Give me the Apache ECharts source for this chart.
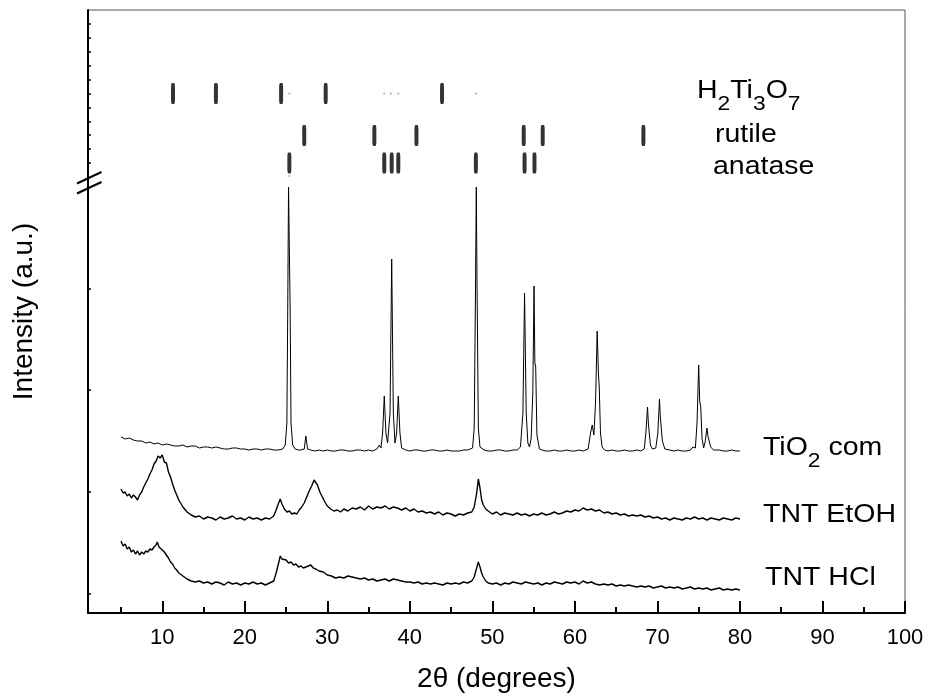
<!DOCTYPE html>
<html>
<head>
<meta charset="utf-8">
<script src="https://cdn.jsdelivr.net/npm/echarts@6.0.0/dist/echarts.min.js"></script>
<style>
html,body{margin:0;padding:0;background:#fff;}
#chart{width:928px;height:700px;}
</style>
</head>
<body>
<div id="chart"></div>
<script>
// ---- Tick labels / tick positions ----
var xMajorTicks = [10, 20, 30, 40, 50, 60, 70, 80, 90, 100];
var xMinorTicks = [5, 15, 25, 35, 45, 55, 65, 75, 85, 95];
var yLowerTicks = [19.7, 121.3, 223, 324.7];
var yUpperTicks = [450, 463.9, 477.8, 491.7, 505.6, 519.5, 533.4, 547.3, 561.2, 575.1, 589];

// ---- Reference line positions (2theta) ----
var h2ti3o7Lines = [11.3, 16.5, 24.4, 29.8, 43.9];
var rutileLines = [27.2, 35.7, 40.8, 53.8, 56.1, 68.3];
var anataseLines = [25.4, 36.9, 37.8, 38.6, 48.0, 53.9, 55.1];
var faintDots = [25.4, 36.9, 37.7, 38.6, 48.0];

// ---- Pattern: TiO2 com ----
var tio2Com = [
[5,176],[5.5,174],[6,175],[6.5,173],[7,172],[7.5,172],[8,170],[8.5,171],[9,169],[9.5,170],[10,168],[10.5,169],
[11,168],[11.5,167],[12,167],[12.5,168],[13,166],[13.5,167],[14,167],[14.5,165],[15,166],[15.5,166],[16,165],[16.5,166],
[17,165],[17.5,164],[18,164],[18.5,165],[19,165],[19.5,164],[20,164],[20.5,163],[21,164],[21.5,164],[22,163],[22.5,164],
[23,164],[23.5,163],[24,163],[24.6,164],[24.9,168],[25.1,190],[25.2,300],[25.3,426],[25.4,426],[25.5,300],[25.6,190],
[25.8,168],[26.1,164],[26.5,163],[26.8,163],[27.2,164],[27.4,177],[27.6,164],[28,163],[28.5,162],[29,163],[29.5,162],
[30,163],[30.5,162],[31,162],[31.5,163],[32,163],[32.5,162],[33,162],[33.5,163],[34,163],[34.5,162],[35,163],[35.5,162],
[36,164],[36.3,168],[36.5,165],[36.7,180],[36.9,217],[37.1,180],[37.3,170],[37.6,200],[37.8,354],[38.0,200],[38.2,170],
[38.4,180],[38.6,217],[38.8,180],[39.0,165],[39.5,163],[40,162],[40.5,163],[41,163],[41.5,162],[42,162],[42.5,163],
[43,163],[43.5,162],[44,162],[44.5,163],[45,162],[45.5,162],[46,162],[46.5,163],[47,163],[47.6,165],[47.8,185],
[47.95,320],[48.05,426],[48.15,320],[48.3,185],[48.5,166],[49,163],[49.5,162],[50,162],[50.5,163],[51,163],[51.5,162],
[52,162],[52.5,163],[53,163],[53.4,166],[53.7,200],[53.9,320],[54.1,200],[54.3,170],[54.5,166],[54.7,175],[54.9,220],
[55.05,327],[55.15,250],[55.25,246],[55.4,178],[55.7,164],[56,163],[56.5,162],[57,162],[57.5,163],[58,162],[58.5,162],
[59,163],[59.5,162],[60,162],[60.5,163],[61,162],[61.6,164],[61.9,180],[62.1,188],[62.3,178],[62.5,210],[62.7,282],
[62.85,240],[62.95,226],[63.1,180],[63.3,166],[63.6,163],[64,162],[64.5,163],[65,162],[65.5,162],[66,163],[66.5,162],
[67,162],[67.5,163],[68,162],[68.4,164],[68.6,180],[68.8,206],[68.9,190],[69.0,188],[69.15,168],[69.4,164],[69.8,165],
[70.05,180],[70.25,214],[70.35,196],[70.45,194],[70.6,172],[70.9,164],[71.5,163],[72,162],[72.5,163],[73,162],[73.5,162],
[74,163],[74.3,166],[74.6,165],[74.8,190],[75.0,248],[75.12,212],[75.25,206],[75.4,175],[75.6,165],[75.8,172],[76.0,185],
[76.12,177],[76.25,176],[76.45,166],[76.8,163],[77,162],[77.5,163],[78,162],[78.5,162],[79,163],[79.5,162],[80,162]
];

// ---- Pattern: TNT EtOH ----
var tntEtoh = [
[5,124],[5.25,120],[5.5,121],[5.75,117],[6,119],[6.25,115],[6.5,118],[6.75,116],[7,113],[7.25,118],[7.5,121],[7.75,126],
[8,130],[8.25,134],[8.5,139],[8.75,143],[9,149],[9.25,152],[9.5,157],[9.75,155],[10,158],[10.25,151],[10.5,150],[10.75,141],
[11,136],[11.25,129],[11.5,123],[11.75,118],[12,113],[12.5,106],[13,101],[13.5,98],[14,96],[14.5,97],[15,94],[15.5,96],
[16,95],[16.5,93],[17,96],[17.5,94],[18,95],[18.5,97],[19,94],[19.5,95],[20,93],[20.5,96],[21,94],[21.5,95],[22,93],
[22.5,95],[23,94],[23.5,97],[23.8,103],[24.1,110],[24.3,114],[24.5,109],[24.8,104],[25.1,101],[25.4,102],[25.7,99],
[26,100],[26.3,99],[26.6,103],[26.9,106],[27.2,110],[27.5,116],[27.8,122],[28.1,127],[28.4,133],[28.6,131],[28.8,128],
[29.1,121],[29.4,116],[29.7,111],[30,107],[30.4,104],[30.8,102],[31.2,103],[31.6,101],[32,104],[32.5,102],[33,105],
[33.5,104],[34,106],[34.5,103],[35,107],[35.5,104],[36,106],[36.5,105],[37,107],[37.5,104],[38,106],[38.5,105],[39,103],
[39.5,105],[40,102],[40.5,104],[41,101],[41.5,102],[42,100],[42.5,101],[43,99],[43.5,101],[44,98],[44.5,100],[45,99],
[45.5,97],[46,99],[46.5,98],[47,100],[47.5,101],[47.8,106],[48.1,120],[48.3,134],[48.5,125],[48.7,113],[48.9,108],
[49.2,104],[49.5,102],[50,99],[50.5,101],[51,98],[51.5,100],[52,99],[52.5,98],[53,100],[53.5,98],[54,99],[54.5,97],
[55,99],[55.5,98],[56,100],[56.5,98],[57,99],[57.5,101],[58,99],[58.5,100],[59,102],[59.5,101],[60,103],[60.5,102],
[61,105],[61.5,103],[62,104],[62.5,102],[63,103],[63.5,100],[64,101],[64.5,99],[65,100],[65.5,98],[66,99],[66.5,97],
[67,98],[67.5,97],[68,98],[68.5,96],[69,97],[69.5,95],[70,96],[70.5,94],[71,95],[71.5,93],[72,95],[72.5,94],[73,93],
[73.5,95],[74,94],[74.5,96],[75,94],[75.5,95],[76,93],[76.5,95],[77,94],[77.5,93],[78,95],[78.5,94],[79,93],[79.5,95],[80,94]
];

// ---- Pattern: TNT HCl ----
var tntHcl = [
[5,72],[5.25,67],[5.5,69],[5.75,64],[6,66],[6.25,61],[6.5,63],[6.75,59],[7,62],[7.25,58],[7.5,61],[7.75,59],[8,62],
[8.25,61],[8.5,64],[8.75,63],[9,66],[9.25,68],[9.4,71],[9.6,66],[9.8,67],[10,63],[10.25,61],[10.5,58],[10.75,55],[11,51],
[11.25,49],[11.5,45],[11.75,43],[12,40],[12.5,37],[13,34],[13.5,32],[14,31],[14.5,32],[15,30],[15.5,31],[16,29],[16.5,31],
[17,30],[17.5,28],[18,31],[18.5,29],[19,30],[19.5,28],[20,30],[20.5,29],[21,31],[21.5,29],[22,30],[22.5,28],[23,30],
[23.5,32],[23.8,40],[24.1,50],[24.3,57],[24.5,54],[24.7,52],[25,53],[25.3,50],[25.6,51],[25.9,48],[26.2,49],[26.5,46],
[26.8,47],[27.1,45],[27.4,46],[27.7,47],[28,48],[28.3,45],[28.6,44],[29,42],[29.5,41],[30,38],[30.5,37],[31,35],[31.5,36],
[32,35],[32.5,37],[33,36],[33.5,35],[34,34],[34.5,35],[35,33],[35.5,34],[36,32],[36.5,33],[37,34],[37.5,32],[38,34],
[38.5,33],[39,32],[39.5,31],[40,31],[40.5,30],[41,31],[41.5,29],[42,30],[42.5,29],[43,30],[43.5,29],[44,28],[44.5,30],
[45,29],[45.5,30],[46,29],[46.5,31],[47,30],[47.5,32],[47.8,36],[48.1,45],[48.3,51],[48.5,46],[48.7,40],[48.9,36],
[49.2,32],[49.5,30],[50,29],[50.5,30],[51,28],[51.5,30],[52,29],[52.5,31],[53,30],[53.5,29],[54,31],[54.5,30],[55,29],
[55.5,30],[56,28],[56.5,30],[57,29],[57.5,31],[58,30],[58.5,29],[59,31],[59.5,30],[60,31],[60.5,29],[61,32],[61.5,30],
[62,31],[62.5,29],[63,28],[63.5,29],[64,28],[64.5,29],[65,27],[65.5,28],[66,27],[66.5,28],[67,27],[67.5,26],[68,27],
[68.5,26],[69,27],[69.5,25],[70,26],[70.5,27],[71,25],[71.5,26],[72,25],[72.5,26],[73,24],[73.5,25],[74,26],[74.5,24],
[75,25],[75.5,24],[76,25],[76.5,23],[77,24],[77.5,25],[78,23],[78.5,24],[79,23],[79.5,24],[80,23]
];

// Row levels of the reference stick rows (in intensity units)
var ROW_H2TI3O7 = 519.5, ROW_RUTILE = 477.5, ROW_ANATASE = 450, ROW_DOT_LOW = 437;

var FONT = "'Liberation Sans', Arial, sans-serif";
var chart = echarts.init(document.getElementById('chart'), null, {renderer: 'canvas'});

function sticks(arr, y) { return arr.map(function (x) { return [x, y]; }); }
function lineSeries(name, data, w) {
  return {
    name: name, type: 'line', data: data, xAxisIndex: 0, yAxisIndex: 0,
    showSymbol: false, symbol: 'none', smooth: false, silent: true,
    lineStyle: {color: '#000', width: w}, z: 3
  };
}
function stickSeries(name, arr, y) {
  return {
    name: name, type: 'scatter', data: sticks(arr, y), xAxisIndex: 0, yAxisIndex: 0,
    symbol: 'roundRect', symbolSize: [4, 21], itemStyle: {color: '#000'}, silent: true, z: 4
  };
}
function richLabel(x, y, text) {
  return {
    type: 'text', x: x, y: y, scaleX: 1.14, silent: true, z: 10,
    style: {
      text: text, x: 0, y: 0, align: 'left', verticalAlign: 'middle',
      fill: '#000', font: '25px ' + FONT,
      rich: {
        m: {fontSize: 25, fontFamily: FONT, fill: '#000', lineHeight: 46},
        s: {fontSize: 20, fontFamily: FONT, fill: '#000', verticalAlign: 'bottom'}
      }
    }
  };
}

var option = {
  animation: false,
  backgroundColor: '#fff',
  grid: {left: 88, top: 10, width: 817, height: 603, show: true, borderColor: '#555', borderWidth: 1, containLabel: false},
  xAxis: [{
    type: 'value', min: 1, max: 100, position: 'bottom',
    name: '2\u03b8 (degrees)', nameLocation: 'middle', nameGap: 52,
    nameTextStyle: {fontSize: 28, fontFamily: FONT, color: '#000'},
    axisLine: {show: true, onZero: false, lineStyle: {color: '#000', width: 2}},
    axisTick: {show: true, inside: true, length: 12, customValues: xMajorTicks, lineStyle: {color: '#000', width: 2}},
    axisLabel: {show: true, customValues: xMajorTicks, margin: 14, fontSize: 22, fontFamily: FONT, color: '#000'},
    splitLine: {show: false}
  }, {
    type: 'value', min: 1, max: 100, position: 'bottom', gridIndex: 0,
    axisLine: {show: false},
    axisTick: {show: true, inside: true, length: 6, customValues: xMinorTicks, lineStyle: {color: '#000', width: 2}},
    axisLabel: {show: false},
    splitLine: {show: false}
  }],
  yAxis: [{
    type: 'value', min: 0, max: 603, position: 'left',
    name: 'Intensity (a.u.)', nameLocation: 'middle', nameGap: 50,
    nameTextStyle: {fontSize: 28, fontFamily: FONT, color: '#000'},
    axisLine: {show: true, onZero: false, lineStyle: {color: '#000', width: 2}},
    axisTick: {show: true, inside: true, length: 3, customValues: yLowerTicks.concat(yUpperTicks), lineStyle: {color: '#000', width: 1.5}},
    axisLabel: {show: false, customValues: yLowerTicks.concat(yUpperTicks)},
    splitLine: {show: false}
  }],
  series: [
    lineSeries('TiO2 com', tio2Com, 1),
    lineSeries('TNT EtOH', tntEtoh, 1.4),
    lineSeries('TNT HCl', tntHcl, 1.4),
    stickSeries('H2Ti3O7', h2ti3o7Lines, ROW_H2TI3O7),
    stickSeries('rutile', rutileLines, ROW_RUTILE),
    stickSeries('anatase', anataseLines, ROW_ANATASE),
    {
      name: 'faint', type: 'scatter', data: sticks(faintDots, ROW_H2TI3O7).concat(sticks([25.4], ROW_DOT_LOW)),
      symbol: 'circle', symbolSize: 2, itemStyle: {color: '#999'}, silent: true, z: 4
    }
  ],
  graphic: [
    {type: 'line', silent: true, z: 10, shape: {x1: 77, y1: 183.5, x2: 101.5, y2: 172}, style: {stroke: '#000', lineWidth: 2}},
    {type: 'line', silent: true, z: 10, shape: {x1: 77, y1: 193.5, x2: 101.5, y2: 182}, style: {stroke: '#000', lineWidth: 2}},
    richLabel(697, 91, '{m|H}{s|2}{m|Ti}{s|3}{m|O}{s|7}'),
    richLabel(715, 135, '{m|rutile}'),
    richLabel(713, 167, '{m|anatase}'),
    richLabel(763, 448, '{m|TiO}{s|2}{m| com}'),
    richLabel(763, 515, '{m|TNT EtOH}'),
    richLabel(765, 578, '{m|TNT HCl}')
  ]
};
chart.setOption(option);
</script>
</body>
</html>
